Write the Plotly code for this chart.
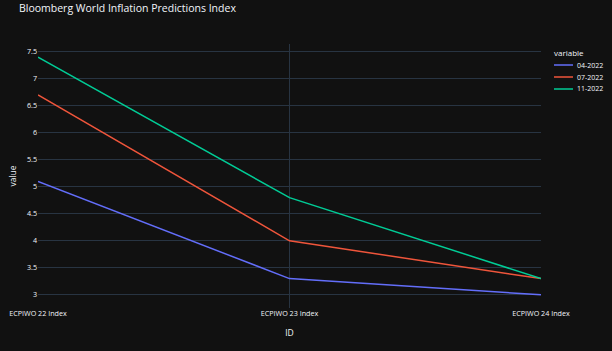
import plotly.graph_objects as go

ids = ["ECPIWO 22 Index", "ECPIWO 23 Index", "ECPIWO 24 Index"]
series_names = ["04-2022", "07-2022", "11-2022"]
v_04 = [5.1, 3.3, 3.0]
v_07 = [6.7, 4.0, 3.3]
v_11 = [7.4, 4.8, 3.3]
colors = ["#636efa", "#EF553B", "#00cc96"]

L, R, T, B = 38, 71, 44, 43
W, H = 612, 351
pw, ph = W - L - R, H - T - B


def px_x(p):
    return (p - L) / pw


def px_y(p):
    return (H - B - p) / ph


fig = go.Figure()
for name, vals, c in zip(series_names, [v_04, v_07, v_11], colors):
    fig.add_trace(go.Scatter(x=ids, y=vals, mode="lines", name=name,
                             line=dict(color=c, width=1.5), showlegend=False))

# compact legend drawn with shapes + annotations
fig.add_annotation(text="variable", xref="paper", yref="paper",
                   x=px_x(552), y=px_y(53), xanchor="left", yanchor="middle",
                   showarrow=False, font=dict(size=8, color="#f2f5fa"))
for i, (name, c) in enumerate(zip(series_names, colors)):
    yy = px_y(65 + 12 * i)
    fig.add_shape(type="line", xref="paper", yref="paper",
                  x0=px_x(554), x1=px_x(573), y0=yy, y1=yy,
                  line=dict(color=c, width=1.5))
    fig.add_annotation(text=name, xref="paper", yref="paper",
                       x=px_x(575), y=yy, xanchor="left", yanchor="middle",
                       showarrow=False, font=dict(size=7, color="#f2f5fa"))

fig.update_layout(
    template="plotly_dark",
    width=W, height=H,
    paper_bgcolor="#111111", plot_bgcolor="#111111",
    margin=dict(l=L, r=R, t=T, b=B, autoexpand=False),
    font=dict(family="Open Sans", size=7, color="#f2f5fa"),
    title=dict(text="Bloomberg World Inflation Predictions Index",
               x=19/612, xanchor="left", y=0.975, yanchor="middle",
               font=dict(size=10.5)),
    showlegend=False,
    xaxis=dict(title=dict(text="ID", font=dict(size=8.5), standoff=12),
               tickfont=dict(size=7.2), gridcolor="#283442"),
    yaxis=dict(title=dict(text="value", font=dict(size=8.5), standoff=8),
               tickfont=dict(size=7.2), gridcolor="#283442", dtick=0.5,
               zeroline=False),
)

fig.write_html("out.html")
